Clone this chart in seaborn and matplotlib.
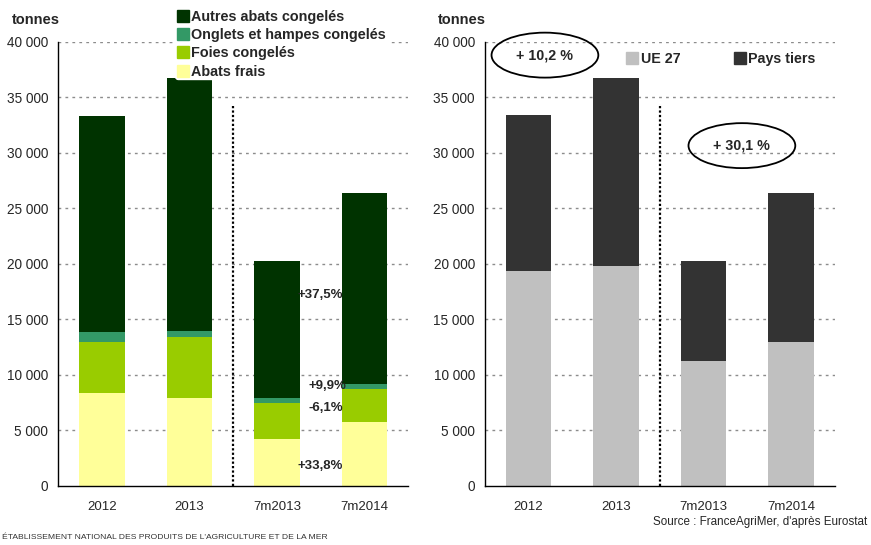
import matplotlib
matplotlib.use("Agg")
import numpy as np
import pandas as pd
import matplotlib.pyplot as plt
import seaborn as sns
from matplotlib.patches import Ellipse
from matplotlib.lines import Line2D
from matplotlib.ticker import FuncFormatter

sns.set_style("white")
plt.rcParams["font.family"] = ["Liberation Sans", "DejaVu Sans"]

# ── données ────────────────────────────────────────────────────────────────
periodes = ["2012", "2013", "7m2013", "7m2014"]

abats_frais = [8380, 7930, 4230, 5770]
foies       = [4590, 5490, 3250, 2970]
onglets     = [900, 540, 450, 450]
autres      = [19460, 22800, 12340, 17210]

ue27        = [19330, 19780, 11240, 12950]
pays_tiers  = [14070, 17000, 9060, 13450]

evol_left   = ["+37,5%", "+9,9%", "-6,1%", "+33,8%"]
evol_right  = ["+ 10,2 %", "+ 30,1 %"]

C_AUTRES  = "#003300"
C_ONGLETS = "#339966"
C_FOIES   = "#99CC00"
C_FRAIS   = "#FFFF99"
C_UE      = "#C0C0C0"
C_TIERS   = "#333333"
GRID      = "#8C8C8C"

fmt = FuncFormatter(lambda v, p: f"{int(v):,}".replace(",", " "))

fig = plt.figure(figsize=(8.71, 5.45), dpi=100)
ax1 = fig.add_axes([0.0666, 0.1083, 0.402, 0.815])
ax2 = fig.add_axes([0.5563, 0.1083, 0.402, 0.815])


def style_axes(ax):
    ax.set_ylim(0, 40000)
    ax.set_xlim(-0.5, 3.5)
    ax.yaxis.set_major_locator(plt.MultipleLocator(5000))
    ax.yaxis.set_major_formatter(fmt)
    ax.set_axisbelow(True)
    ax.grid(False)
    for y in range(5000, 40001, 5000):
        ax.axhline(y, color=GRID, lw=1, ls=(0, (2, 3)), zorder=0)
    for s in ["top", "right"]:
        ax.spines[s].set_visible(False)
    for s in ["left", "bottom"]:
        ax.spines[s].set_color("black")
        ax.spines[s].set_linewidth(1)
    ax.set_xticks([-0.5, 0.5, 1.5, 2.5, 3.5])
    ax.set_xticklabels([])
    ax.set_xticks(range(4), minor=True)
    ax.set_xticklabels(periodes, minor=True, fontsize=9.5)
    ax.tick_params(axis="x", which="major", direction="out", length=5, width=1)
    ax.tick_params(axis="x", which="minor", length=0, pad=11)
    ax.tick_params(axis="y", direction="out", length=5, width=1, labelsize=9.8, pad=2)
    ax.set_xlabel(""); ax.set_ylabel("")
    ax.vlines(1.5, 0, 34200, color="black", lw=1.6, ls=(0, (1, 1)), zorder=5)


def bars(ax, vals, col):
    sns.barplot(x=periodes, y=vals, color=col, saturation=1, width=0.52,
                linewidth=0, edgecolor="none", ax=ax, zorder=2)


# ── graphique gauche : empilé par type d'abats ────────────────────────────
c1 = np.array(abats_frais)
c2 = c1 + np.array(foies)
c3 = c2 + np.array(onglets)
c4 = c3 + np.array(autres)
for vals, col in [(c4, C_AUTRES), (c3, C_ONGLETS), (c2, C_FOIES), (c1, C_FRAIS)]:
    bars(ax1, vals, col)
style_axes(ax1)

pos_left = [(2.494, 17200), (2.574, 9000), (2.563, 7030), (2.494, 1800)]
for (x, y), t in zip(pos_left, evol_left):
    ax1.text(x, y, t, ha="center", va="center", fontsize=9.5,
             fontweight="bold", zorder=6)

handles = [Line2D([], [], marker="s", ls="", markersize=8.5, color=c)
           for c in [C_AUTRES, C_ONGLETS, C_FOIES, C_FRAIS]]
labels = ["Autres abats congelés", "Onglets et hampes congelés",
          "Foies congelés", "Abats frais"]
leg = fig.legend(handles, labels, loc="upper left",
                 bbox_to_anchor=(0.198, 0.989), frameon=True,
                 facecolor="white", edgecolor="white", framealpha=1,
                 prop={"weight": "bold", "size": 10.4},
                 handletextpad=0.15, labelspacing=0.3, borderpad=0.05,
                 handlelength=0.9, borderaxespad=0.2)
leg.set_zorder(10)

# ── graphique droit : UE 27 / pays tiers ──────────────────────────────────
t2 = np.array(ue27) + np.array(pays_tiers)
bars(ax2, t2, C_TIERS)
bars(ax2, ue27, C_UE)
style_axes(ax2)

h2 = [Line2D([], [], marker="s", ls="", markersize=8.5, color=c)
      for c in [C_UE, C_TIERS]]
ax2.legend(h2, ["UE 27", "Pays tiers"], loc="center", ncol=2,
           bbox_to_anchor=(0.675, 0.962), frameon=False,
           prop={"weight": "bold", "size": 10.3},
           handletextpad=0.15, columnspacing=3.7, handlelength=0.9)

for (x, y), t in zip([(0.19, 38800), (2.44, 30650)], evol_right):
    ax2.add_patch(Ellipse((x, y), 1.22, 4050, fill=False, ec="black",
                          lw=1.3, clip_on=False, zorder=6))
    ax2.text(x, y, t, ha="center", va="center", fontsize=10.3,
             fontweight="bold", zorder=7)

# ── textes ─────────────────────────────────────────────────────────────────
fig.text(0.014, 0.963, "tonnes", fontsize=10.5, fontweight="bold", va="center")
fig.text(0.503, 0.963, "tonnes", fontsize=10.5, fontweight="bold", va="center")
fig.text(0.996, 0.043, "Source : FranceAgriMer, d'après Eurostat",
         ha="right", va="center", fontsize=8.4)
fig.text(0.002, 0.014,
         "ÉTABLISSEMENT NATIONAL DES PRODUITS DE L'AGRICULTURE ET DE LA MER",
         ha="left", va="center", fontsize=6.1, color="#333333")

fig.savefig("out.png", dpi=100, facecolor="white")
